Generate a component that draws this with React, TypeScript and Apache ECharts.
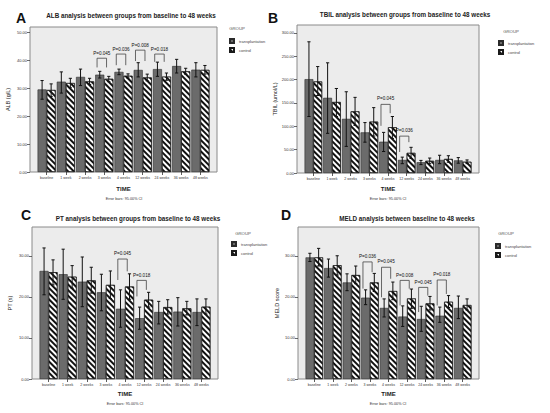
import React, { useEffect, useRef } from 'react';
import * as echarts from 'echarts';

const categories = ['baseline', '1 week', '2 weeks', '3 weeks', '4 weeks', '12 weeks', '24 weeks', '36 weeks', '48 weeks'];

// A: ALB
const albTicks = [0, 10, 20, 30, 40, 50];
const albTrans = [29.6, 32.4, 34.1, 34.9, 35.9, 36.6, 36.9, 38.0, 36.7];
const albTransLow = [26.1, 28.3, 31.0, 33.7, 34.9, 34.1, 34.3, 35.5, 34.1];
const albTransHigh = [32.8, 35.9, 36.9, 36.1, 36.9, 39.2, 39.4, 40.4, 39.2];
const albCtrl = [29.4, 31.9, 32.5, 33.4, 34.5, 33.9, 34.2, 36.1, 36.6];
const albCtrlLow = [27.1, 30.2, 31.4, 32.4, 33.7, 32.7, 32.9, 35.1, 35.1];
const albCtrlHigh = [31.6, 33.6, 33.6, 34.3, 35.2, 35.1, 35.5, 37.2, 38.2];
const albPIndex = [3, 4, 5, 6];
const albPText = ['P=0.045', 'P=0.036', 'P=0.008', 'P=0.018'];
const albPTop = [40.8, 42.3, 43.7, 42.3];
const albPLeftEnd = [37.5, 38.3, 39.8, 39.5];
const albPRightEnd = [37.5, 38.3, 39.8, 39.5];
const albPLabel = [42.6, 44.1, 45.5, 44.1];

// B: TBIL
const tbilTicks = [0, 50, 100, 150, 200, 250, 300];
const tbilTrans = [201, 161, 116, 87, 67, 28, 23, 28, 27];
const tbilTransLow = [121, 85, 57, 66, 46, 20, 18, 20, 21];
const tbilTransHigh = [281, 236, 174, 108, 87, 34, 27, 38, 33];
const tbilCtrl = [196, 152, 132, 110, 98, 43, 26, 30, 24];
const tbilCtrlLow = [166, 121, 102, 79, 74, 31, 20, 23, 20];
const tbilCtrlHigh = [228, 181, 162, 140, 121, 55, 32, 37, 28];
const tbilPIndex = [4, 5];
const tbilPText = ['P=0.045', 'P=0.036'];
const tbilPTop = [147, 79];
const tbilPLeftEnd = [101, 45];
const tbilPRightEnd = [128, 66];
const tbilPLabel = [159, 91];

// C: PT
const ptTicks = [0, 10, 20, 30];
const ptTrans = [26.3, 25.5, 23.7, 21.1, 17.1, 14.8, 16.3, 16.4, 16.3];
const ptTransLow = [20.5, 19.4, 17.6, 16.6, 12.6, 12.1, 13.4, 12.9, 13.0];
const ptTransHigh = [31.9, 31.6, 29.7, 25.5, 21.7, 17.5, 18.9, 19.8, 19.5];
const ptCtrl = [26.0, 24.9, 24.0, 22.9, 22.5, 19.3, 17.5, 17.2, 17.6];
const ptCtrlLow = [22.9, 22.1, 20.9, 19.6, 19.4, 17.5, 15.8, 15.6, 15.8];
const ptCtrlHigh = [29.0, 27.6, 27.2, 26.3, 25.6, 21.1, 19.3, 18.9, 19.5];
const ptPIndex = [4, 5];
const ptPText = ['P=0.045', 'P=0.018'];
const ptPTop = [29.2, 24.0];
const ptPLeftEnd = [24.1, 20.1];
const ptPRightEnd = [26.2, 21.7];
const ptPLabel = [30.5, 25.3];

// D: MELD
const meldTicks = [0, 10, 20, 30];
const meldTrans = [29.6, 27.0, 23.5, 19.8, 17.3, 15.2, 14.6, 15.4, 17.3];
const meldTransLow = [28.6, 24.8, 21.5, 18.1, 15.1, 12.8, 11.6, 13.8, 14.7];
const meldTransHigh = [30.6, 29.2, 25.6, 21.7, 19.5, 17.8, 17.7, 17.5, 20.2];
const meldCtrl = [29.6, 27.7, 25.3, 23.5, 21.4, 19.6, 18.4, 18.8, 18.0];
const meldCtrlLow = [27.5, 25.3, 23.2, 21.3, 19.3, 17.2, 16.8, 17.4, 16.8];
const meldCtrlHigh = [31.8, 30.0, 27.5, 25.7, 23.6, 21.9, 20.1, 20.3, 19.5];
const meldPIndex = [3, 4, 5, 6, 7];
const meldPText = ['P=0.036', 'P=0.045', 'P=0.008', 'P=0.045', 'P=0.018'];
const meldPTop = [28.5, 27.2, 24.0, 22.3, 24.1];
const meldPLeftEnd = [22.0, 19.9, 17.9, 16.3, 17.9];
const meldPRightEnd = [26.0, 24.4, 22.0, 20.3, 20.7];
const meldPLabel = [29.8, 28.5, 25.3, 23.6, 25.4];

const FONT = '"Liberation Sans", Arial, sans-serif';
const GAP = 0.06;

const panels = [
  {
    letter: 'A', title: 'ALB analysis between groups from baseline to 48 weeks', yName: 'ALB (g/L)',
    ticks: albTicks, max: 52, trans: albTrans, transLow: albTransLow, transHigh: albTransHigh,
    ctrl: albCtrl, ctrlLow: albCtrlLow, ctrlHigh: albCtrlHigh,
    pIndex: albPIndex, pText: albPText, pTop: albPTop, pLeft: albPLeftEnd, pRight: albPRightEnd, pLabel: albPLabel,
    frame: [30, 27, 217, 172], letterPos: [16, 18], titlePos: [131, 15], groupPos: [237, 28], legendPos: [224, 33],
    errPos: [124, 199], nameGap: 19, timeGap: 14,
  },
  {
    letter: 'B', title: 'TBIL analysis between groups from baseline to 48 weeks', yName: 'TBIL (umol/L)',
    ticks: tbilTicks, max: 317, trans: tbilTrans, transLow: tbilTransLow, transHigh: tbilTransHigh,
    ctrl: tbilCtrl, ctrlLow: tbilCtrlLow, ctrlHigh: tbilCtrlHigh,
    pIndex: tbilPIndex, pText: tbilPText, pTop: tbilPTop, pLeft: tbilPLeftEnd, pRight: tbilPRightEnd, pLabel: tbilPLabel,
    frame: [297, 25, 479, 173], letterPos: [268, 18], titlePos: [405, 14], groupPos: [511, 31], legendPos: [493, 35],
    errPos: [388, 199], nameGap: 19, timeGap: 13,
  },
  {
    letter: 'C', title: 'PT analysis between groups from baseline to 48 weeks', yName: 'PT (s)',
    ticks: ptTicks, max: 37, trans: ptTrans, transLow: ptTransLow, transHigh: ptTransHigh,
    ctrl: ptCtrl, ctrlLow: ptCtrlLow, ctrlHigh: ptCtrlHigh,
    pIndex: ptPIndex, pText: ptPText, pTop: ptPTop, pLeft: ptPLeftEnd, pRight: ptPRightEnd, pLabel: ptPLabel,
    frame: [32, 227, 218, 379], letterPos: [21, 215], titlePos: [138, 218], groupPos: [243, 233], legendPos: [226, 236],
    errPos: [125, 404], nameGap: 19, timeGap: 12,
  },
  {
    letter: 'D', title: 'MELD analysis between baseline to 48 weeks', yName: 'MELD score',
    ticks: meldTicks, max: 37, trans: meldTrans, transLow: meldTransLow, transHigh: meldTransHigh,
    ctrl: meldCtrl, ctrlLow: meldCtrlLow, ctrlHigh: meldCtrlHigh,
    pIndex: meldPIndex, pText: meldPText, pTop: meldPTop, pLeft: meldPLeftEnd, pRight: meldPRightEnd, pLabel: meldPLabel,
    frame: [298, 227, 479, 379], letterPos: [281, 215], titlePos: [407, 218], groupPos: [506, 233], legendPos: [490, 238],
    errPos: [388, 404], nameGap: 18, timeGap: 12,
  },
];

function txt(x: number, y: number, text: string, size: number, weight = 'normal', align = 'center', color = '#222') {
  return {
    type: 'text', x, y, silent: true,
    style: {
      text, fill: color, font: `${weight} ${size}px ${FONT}`,
      align, verticalAlign: 'middle', textAlign: align, textVerticalAlign: 'middle',
    },
  };
}

function makeErrRender() {
  return (params: any, api: any) => {
    const idx = api.value(0);
    const band = api.size([1, 0])[0];
    const bw = (band * (1 - GAP)) / 2;
    const children: any[] = [];
    const cap = 1.6;
    const defs = [[1, 2, -1], [3, 4, 1]];
    defs.forEach(([lo, hi, sgn]) => {
      const pLo = api.coord([idx, api.value(lo)]);
      const pHi = api.coord([idx, api.value(hi)]);
      const x = pLo[0] + (sgn * bw) / 2;
      const st = { stroke: '#111', lineWidth: 1 };
      children.push({ type: 'line', shape: { x1: x, y1: pLo[1], x2: x, y2: pHi[1] }, style: st });
      children.push({ type: 'line', shape: { x1: x - cap, y1: pLo[1], x2: x + cap, y2: pLo[1] }, style: st });
      children.push({ type: 'line', shape: { x1: x - cap, y1: pHi[1], x2: x + cap, y2: pHi[1] }, style: st });
    });
    return { type: 'group', children };
  };
}

function makeBracketRender(texts: string[]) {
  return (params: any, api: any) => {
    const idx = api.value(0);
    const band = api.size([1, 0])[0];
    const bw = (band * (1 - GAP)) / 2;
    const c = api.coord([idx, api.value(1)]);
    const xl = c[0] - 0.8 * bw;
    const xr = c[0] + 0.25 * bw;
    const yTop = c[1];
    const yL = api.coord([idx, api.value(2)])[1];
    const yR = api.coord([idx, api.value(3)])[1];
    const yLab = api.coord([idx, api.value(4)])[1];
    return {
      type: 'group',
      children: [
        {
          type: 'polyline',
          shape: { points: [[xl, yL], [xl, yTop], [xr, yTop], [xr, yR]] },
          style: { stroke: '#444', lineWidth: 0.8, fill: 'none' },
        },
        {
          type: 'text', x: (xl + xr) / 2, y: yLab,
          style: {
            text: texts[params.dataIndex], fill: '#111', font: `normal 4.6px ${FONT}`,
            align: 'center', verticalAlign: 'middle', textAlign: 'center', textVerticalAlign: 'middle',
          },
        },
      ],
    };
  };
}

function makeOption() {
  const grid: any[] = [];
  const xAxis: any[] = [];
  const yAxis: any[] = [];
  const series: any[] = [];
  const legend: any[] = [];
  const graphic: any[] = [];

  panels.forEach((p, i) => {
    const [l, t, r, b] = p.frame;
    const pad = 7;
    grid[i] = {
      left: l, top: t, width: r - l, height: b - t, show: true,
      backgroundColor: '#ececec', borderColor: '#8a8a8a', borderWidth: 1,
    };
    grid[i + 4] = { left: l + pad, top: t, width: r - l - 2 * pad, height: b - t };
    xAxis[i] = { type: 'value', gridIndex: i, show: false, min: 0, max: 1 };
    yAxis[i] = {
      type: 'value', gridIndex: i, min: 0, max: p.max,
      name: p.yName, nameLocation: 'middle', nameGap: p.nameGap,
      nameTextStyle: { fontSize: 5.5, color: '#222', fontFamily: FONT },
      axisLine: { show: false },
      axisTick: { show: true, length: 3, lineStyle: { color: '#444', width: 0.8 }, customValues: p.ticks },
      axisLabel: {
        fontSize: 4, margin: 3, color: '#333', fontFamily: FONT, customValues: p.ticks,
        formatter: (v: number) => v.toFixed(2),
      },
      splitLine: { show: false },
    };
    xAxis[i + 4] = {
      type: 'category', gridIndex: i + 4, data: categories,
      axisLine: { show: false },
      axisTick: { show: true, alignWithLabel: true, length: 3, lineStyle: { color: '#333', width: 0.8 } },
      axisLabel: { interval: 0, fontSize: 3.5, margin: 4, color: '#333', fontFamily: FONT },
      name: 'TIME', nameLocation: 'middle', nameGap: p.timeGap,
      nameTextStyle: { fontSize: 6, fontWeight: 'bold', color: '#222', fontFamily: FONT },
    };
    yAxis[i + 4] = { type: 'value', gridIndex: i + 4, min: 0, max: p.max, show: false };

    series.push({
      type: 'bar', name: 'transplantation', xAxisIndex: i + 4, yAxisIndex: i + 4, data: p.trans,
      barGap: '0%', barCategoryGap: `${GAP * 100}%`, silent: true,
      itemStyle: { color: '#6b6b6b', borderColor: '#2b2b2b', borderWidth: 0.6 },
    });
    series.push({
      type: 'bar', name: 'control', xAxisIndex: i + 4, yAxisIndex: i + 4, data: p.ctrl,
      barGap: '0%', barCategoryGap: `${GAP * 100}%`, silent: true,
      itemStyle: {
        color: '#ffffff', borderColor: '#1a1a1a', borderWidth: 0.6,
        decal: {
          symbol: 'rect', symbolSize: 1, color: '#111', backgroundColor: '#ffffff',
          dashArrayX: [1, 0], dashArrayY: [1.5, 1.5], rotation: Math.PI / 4,
        },
      },
    });
    series.push({
      type: 'custom', name: 'err' + i, xAxisIndex: i + 4, yAxisIndex: i + 4, silent: true, z: 5,
      data: categories.map((_, k) => [k, p.transLow[k], p.transHigh[k], p.ctrlLow[k], p.ctrlHigh[k]]),
      renderItem: makeErrRender(),
    });
    series.push({
      type: 'custom', name: 'p' + i, xAxisIndex: i + 4, yAxisIndex: i + 4, silent: true, z: 5,
      data: p.pIndex.map((k, j) => [k, p.pTop[j], p.pLeft[j], p.pRight[j], p.pLabel[j]]),
      renderItem: makeBracketRender(p.pText),
    });

    legend.push({
      left: p.legendPos[0], top: p.legendPos[1], orient: 'vertical', icon: 'rect',
      itemWidth: 4, itemHeight: 4, itemGap: 3, selectedMode: false,
      data: ['transplantation', 'control'],
      textStyle: { fontSize: 4, color: '#444', fontFamily: FONT },
    });

    graphic.push(txt(p.letterPos[0], p.letterPos[1], p.letter, 14, 'bold', 'left', '#111'));
    graphic.push(txt(p.titlePos[0], p.titlePos[1], p.title, 6.3, 'bold', 'center', '#222'));
    graphic.push(txt(p.groupPos[0], p.groupPos[1], 'GROUP', 4.3, 'normal', 'center', '#555'));
    graphic.push(txt(p.errPos[0], p.errPos[1], 'Error bars: 95.00% CI', 3.8, 'normal', 'center', '#333'));
  });

  return {
    animation: false,
    backgroundColor: '#ffffff',
    grid, xAxis, yAxis, series, legend, graphic,
  };
}

export default function App() {
  const ref = useRef<HTMLDivElement>(null);
  useEffect(() => {
    if (!ref.current) return;
    const chart = echarts.init(ref.current, undefined, { renderer: 'svg' });
    chart.setOption(makeOption() as any);
    return () => chart.dispose();
  }, []);
  return <div ref={ref} style={{ position: 'fixed', left: 0, top: 0, width: 550, height: 413 }} />;
}
